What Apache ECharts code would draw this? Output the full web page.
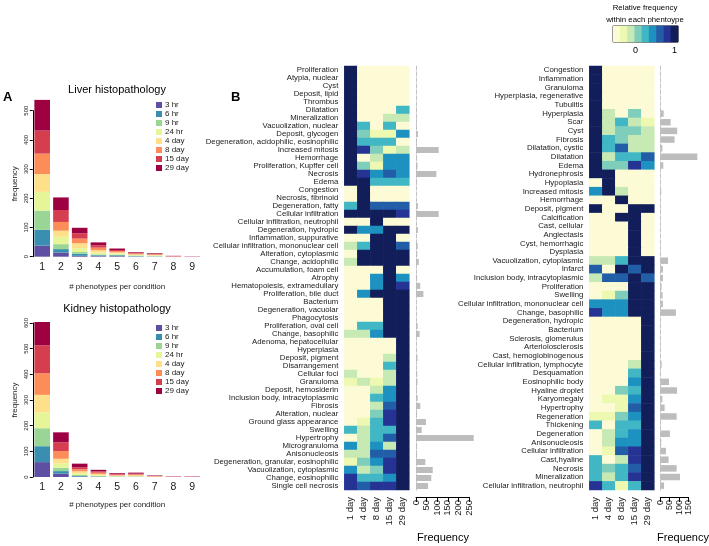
<!DOCTYPE html>
<html><head><meta charset="utf-8">
<script src="https://cdn.jsdelivr.net/npm/echarts@6/dist/echarts.min.js"></script>
<style>html,body{margin:0;padding:0;background:#fff}#c{width:709px;height:546px}</style>
</head><body><div id="c"></div>
<script>
// ---------------- DATA ----------------
const phenotypeCounts = ['1','2','3','4','5','6','7','8','9'];
const timepoints = ['3 hr','6 hr','9 hr','24 hr','4 day','8 day','15 day','29 day'];
const tpColors = ['#5E4FA2','#3A8FB0','#99D594','#E6F598','#FEE08B','#FC8D59','#D53E4F','#9E0142'];

// Panel A: liver, stacked counts per timepoint for 1..9 phenotypes per condition
const liver3hr   = [38,14,3,2,2,1,0,0,0];
const liver6hr   = [54,12,7,3,3,1,1,0,0];
const liver9hr   = [66,17,6,3,2,2,1,0,0];
const liver24hr  = [64,25,13,6,4,2,2,0,0];
const liver4day  = [61,21,17,8,4,2,2,0,0];
const liver8day  = [70,30,16,9,4,3,2,1,0];
const liver15day = [79,41,18,8,4,3,2,1,0];
const liver29day = [105,43,19,10,5,2,2,1,1];
// Panel A: kidney
const kidney3hr   = [58,13,2,1,0,0,0,0,0];
const kidney6hr   = [62,10,2,1,1,1,0,0,0];
const kidney9hr   = [70,13,4,2,1,1,0,0,0];
const kidney24hr  = [62,17,6,3,2,2,1,0,0];
const kidney4day  = [68,18,8,5,2,3,1,0,0];
const kidney8day  = [84,30,8,5,3,3,1,0,0];
const kidney15day = [109,34,8,5,3,3,1,1,1];
const kidney29day = [91,39,14,6,3,4,2,1,1];

// Panel B
const days = ['1 day','4 day','8 day','15 day','29 day'];
const liverPhenotypes = ['Proliferation','Atypia, nuclear','Cyst','Deposit, lipid','Thrombus','Dilatation','Mineralization','Vacuolization, nuclear','Deposit, glycogen','Degeneration, acidophilic, eosinophilic','Increased mitosis','Hemorrhage','Proliferation, Kupffer cell','Necrosis','Edema','Congestion','Necrosis, fibrinoid','Degeneration, fatty','Cellular infiltration','Cellular infiltration, neutrophil','Degeneration, hydropic','Inflammation, suppurative','Cellular infiltration, mononuclear cell','Alteration, cytoplasmic','Change, acidophilic','Accumulation, foam cell','Atrophy','Hematopoiesis, extramedullary','Proliferation, bile duct','Bacterium','Degeneration, vacuolar','Phagocytosis','Proliferation, oval cell','Change, basophilic','Adenoma, hepatocellular','Hyperplasia','Deposit, pigment','Disarrangement','Cellular foci','Granuloma','Deposit, hemosiderin','Inclusion body, intracytoplasmic','Fibrosis','Alteration, nuclear','Ground glass appearance','Swelling','Hypertrophy','Microgranuloma','Anisonucleosis','Degeneration, granular, eosinophilic','Vacuolization, cytoplasmic','Change, eosinophilic','Single cell necrosis'];
const liverRelFreq = [
[1,0,0,0,0],[1,0,0,0,0],[1,0,0,0,0],[1,0,0,0,0],[1,0,0,0,0],
[1,0,0,0,.5],[1,0,0,.25,.25],[1,.5,0,.5,0],[1,.38,.12,.12,.62],[1,.5,.5,.5,0],
[1,.88,.38,.12,.25],[1,0,.25,.62,.62],[1,.38,.12,.62,.62],[1,.88,.62,.75,.62],[1,1,.5,.5,.5],
[0,1,0,0,0],[0,1,0,0,0],[.5,1,.75,.75,.75],[1,1,1,1,.88],[0,0,1,0,0],
[1,.62,.62,1,1],[0,0,1,1,0],[.25,.5,1,1,.75],[0,1,1,1,1],[.25,1,1,1,1],
[0,0,0,1,0],[0,0,.62,1,.62],[0,0,.62,1,.88],[0,.62,1,1,1],[0,0,0,1,1],
[0,0,0,1,1],[0,0,0,1,1],[0,.5,.5,1,1],[.25,.25,.62,1,1],[0,0,0,0,1],
[0,0,0,0,1],[0,0,0,.25,1],[0,0,0,.5,1],[.25,0,0,.25,1],[.12,.25,.12,.25,1],
[0,0,.25,.62,1],[0,0,.5,.62,1],[0,0,.25,.75,1],[0,0,.38,.88,1],[0,.12,.5,.88,1],
[.5,.25,.5,.5,1],[0,.25,.5,.75,1],[.62,.25,.62,.25,1],[.25,.25,.75,.75,1],[.12,.38,.62,.88,1],
[.62,.25,.38,.88,1],[.88,.5,.5,.62,1],[.88,.75,.88,.88,1]];
const liverFrequency = [1,1,1,1,1,3,3,3,9,4,107,4,7,96,4,1,1,9,107,1,9,1,8,6,13,1,5,20,35,1,1,1,8,17,1,1,7,2,6,7,4,8,20,5,47,27,272,5,5,44,79,72,57];

const kidneyPhenotypes = ['Congestion','Inflammation','Granuloma','Hyperplasia, regenerative','Tubulitis','Hyperplasia','Scar','Cyst','Fibrosis','Dilatation, cystic','Dilatation','Edema','Hydronephrosis','Hypoplasia','Increased mitosis','Hemorrhage','Deposit, pigment','Calcification','Cast, cellular','Angiectasis','Cyst, hemorrhagic','Dysplasia','Vacuolization, cytoplasmic','Infarct','Inclusion body, intracytoplasmic','Proliferation','Swelling','Cellular infiltration, mononuclear cell','Change, basophilic','Degeneration, hydropic','Bacterium','Sclerosis, glomerulus','Arteriolosclerosis','Cast, hemoglobinogenous','Cellular infiltration, lymphocyte','Desquamation','Eosinophilic body','Hyaline droplet','Karyomegaly','Hypertrophy','Regeneration','Thickening','Degeneration','Anisonucleosis','Cellular infiltration','Cast,hyaline','Necrosis','Mineralization','Cellular infiltration, neutrophil'];
const kidneyRelFreq = [
[1,0,0,0,0],[1,0,0,0,0],[1,0,0,0,0],[1,0,0,0,0],[1,0,0,0,0],
[1,.25,0,.38,0],[1,.25,.5,.25,.12],[1,.25,.38,.38,.25],[1,.5,.38,.25,.25],[1,.5,.75,.25,.25],
[1,.25,.5,.5,.75],[1,.38,.38,.88,.62],[1,1,0,0,0],[0,1,0,0,0],[.62,1,.25,0,0],
[0,0,1,0,0],[1,0,0,1,1],[0,0,1,1,0],[0,0,0,1,0],[0,0,0,1,0],
[0,0,0,1,0],[0,0,0,1,0],[.25,.25,.5,1,1],[.75,0,1,.75,1],[.25,.75,.75,1,.75],
[0,0,0,1,1],[0,.12,.38,1,1],[.62,.62,.62,1,1],[.88,.62,.62,1,1],[0,0,0,0,1],
[0,0,0,0,1],[0,0,0,0,1],[0,0,0,0,1],[0,0,0,0,1],[0,0,0,.25,1],
[0,0,0,.5,1],[0,0,0,.62,1],[0,0,.38,.5,1],[0,.12,.12,.62,1],[0,0,.12,.75,1],
[.12,.12,.38,.62,1],[.5,0,.5,.5,1],[0,.25,.5,.62,1],[0,.25,.62,.62,1],[0,.12,.75,.88,1],
[.5,0,.25,.88,1],[.5,.38,.5,.75,1],[.5,.25,.5,.88,1],[.88,.5,.12,.5,1]];
const kidneyFrequency = [1,1,1,1,1,18,55,90,76,11,197,16,1,1,5,1,2,1,1,1,1,1,41,14,14,7,12,14,83,1,1,1,1,1,7,2,46,89,11,23,87,2,51,5,30,44,87,105,20];

const colorbarSteps = [0,.12,.25,.38,.5,.62,.75,.88,1];
const ylgnbu = ['#FDFBD5','#EDF8B1','#C7E9B4','#7FCDBB','#41B6C4','#1D91C0','#225EA8','#253494','#121E5A'];

// ---------------- CHART ----------------
const FONT = '"Liberation Sans", Arial, Helvetica, sans-serif';
const TXT = '#1a1a1a';
const chart = echarts.init(document.getElementById('c'));

const liverStacks = [liver3hr,liver6hr,liver9hr,liver24hr,liver4day,liver8day,liver15day,liver29day];
const kidneyStacks = [kidney3hr,kidney6hr,kidney9hr,kidney24hr,kidney4day,kidney8day,kidney15day,kidney29day];

const grids = [
  {left:32.8, top:110.7, width:168.75, height:146},   // liver A
  {left:32.8, top:323, width:168.75, height:154},     // kidney A
  {left:344.3, top:66, width:65, height:424},         // liver heatmap
  {left:416, top:66, width:53, height:424},           // liver freq
  {left:589.3, top:66, width:65, height:424},         // kidney heatmap
  {left:660.3, top:66, width:28.2, height:424},       // kidney freq
  {left:613, top:26, width:65, height:16, show:true, borderColor:'#000', borderWidth:1, backgroundColor:'transparent'} // colorbar
];

function catAxisA(gi, gap){
  return {type:'category', gridIndex:gi, data:phenotypeCounts,
    axisLine:{show:false}, axisTick:{show:false},
    axisLabel:{fontSize:10.5, color:TXT, margin:5, fontFamily:FONT},
    name:'# phenotypes per condition', nameLocation:'middle', nameGap:gap,
    nameTextStyle:{fontSize:8, color:TXT, fontFamily:FONT}};
}
function valAxisA(gi, max){
  return {type:'value', gridIndex:gi, min:0, max:max, interval:100,
    axisLine:{show:true, lineStyle:{color:'#000', width:1}},
    axisTick:{show:true, length:3, lineStyle:{color:'#000'}},
    axisLabel:{rotate:90, fontSize:6, color:TXT, margin:3, fontFamily:FONT},
    splitLine:{show:false},
    name:'frequency', nameLocation:'middle', nameRotate:90, nameGap:14,
    nameTextStyle:{fontSize:8, color:TXT, fontFamily:FONT}};
}
function dayAxis(gi){
  return {type:'category', gridIndex:gi, data:days,
    axisLine:{show:false}, axisTick:{show:false},
    axisLabel:{rotate:90, fontSize:9.5, color:TXT, margin:7, interval:0, fontFamily:FONT}};
}
function rowAxis(gi, names, showLabels){
  return {type:'category', gridIndex:gi, data:names, inverse:true,
    axisLine:{show:!showLabels, lineStyle:{color:'#c4c4c4', type:'dashed', width:1}},
    axisTick:{show:false},
    axisLabel:{show:showLabels, fontSize:7.8, color:TXT, margin:6, interval:0, fontFamily:FONT}};
}
function freqAxis(gi, max, fs){
  return {type:'value', gridIndex:gi, min:0, max:max, interval:50, position:'bottom', offset:7,
    axisLine:{show:true, lineStyle:{color:'#000', width:1}},
    axisTick:{show:true, length:5, lineStyle:{color:'#000'}},
    axisLabel:{rotate:90, fontSize:fs, color:TXT, margin:3, fontFamily:FONT,
      showMinLabel:true, showMaxLabel:true, hideOverlap:false},
    splitLine:{show:false}};
}

const series = [];
liverStacks.forEach((arr,i)=>series.push({type:'bar', name:timepoints[i], stack:'liver', xAxisIndex:0, yAxisIndex:0,
  data:arr, barWidth:15.6, clip:false, itemStyle:{color:tpColors[i]}, emphasis:{disabled:true}}));
kidneyStacks.forEach((arr,i)=>series.push({type:'bar', name:timepoints[i], stack:'kidney', xAxisIndex:1, yAxisIndex:1,
  data:arr, barWidth:15.6, clip:false, itemStyle:{color:tpColors[i]}, emphasis:{disabled:true}}));

function heatData(mat){
  const out=[];
  mat.forEach((row,r)=>row.forEach((v,c)=>out.push([c,r,v])));
  return out;
}
series.push({type:'heatmap', xAxisIndex:2, yAxisIndex:2, data:heatData(liverRelFreq), emphasis:{disabled:true}}); // 16
series.push({type:'bar', xAxisIndex:3, yAxisIndex:3, data:liverFrequency, barCategoryGap:'25%', clip:false,
  itemStyle:{color:'#bdbdbd'}, emphasis:{disabled:true}}); // 17
series.push({type:'heatmap', xAxisIndex:4, yAxisIndex:4, data:heatData(kidneyRelFreq), emphasis:{disabled:true}}); // 18
series.push({type:'bar', xAxisIndex:5, yAxisIndex:5, data:kidneyFrequency, barCategoryGap:'25%', clip:false,
  itemStyle:{color:'#bdbdbd'}, emphasis:{disabled:true}}); // 19
series.push({type:'heatmap', xAxisIndex:6, yAxisIndex:6, data:colorbarSteps.map((v,i)=>[i,0,v]), emphasis:{disabled:true}}); // 20

const pieces = ylgnbu.map((col,i)=>({gte:i/9, lt:(i+1)/9 + (i===8?0.01:0), color:col}));

const legendBase = {orient:'vertical', itemWidth:6, itemHeight:6, itemGap:1, padding:0, icon:'rect',
  selectedMode:false, data:timepoints, textStyle:{fontSize:8, color:TXT, fontFamily:FONT, padding:[0,0,0,-2]}};

const titleStyle = (fs, fw)=>({fontSize:fs, fontWeight:fw||'normal', color:'#000', fontFamily:FONT});

chart.setOption({
  animation:false,
  backgroundColor:'#fff',
  textStyle:{fontFamily:FONT},
  title:[
    {text:'Liver histopathology', left:117, top:84, textAlign:'center', padding:0, textStyle:titleStyle(11)},
    {text:'Kidney histopathology', left:117, top:303, textAlign:'center', padding:0, textStyle:titleStyle(11)},
    {text:'A', left:3, top:91, padding:0, textStyle:titleStyle(13,'bold')},
    {text:'B', left:231, top:91, padding:0, textStyle:titleStyle(13,'bold')},
    {text:'Frequency', left:443, top:532, textAlign:'center', padding:0, textStyle:titleStyle(11)},
    {text:'Frequency', left:683, top:532, textAlign:'center', padding:0, textStyle:titleStyle(11)},
    {text:'Relative frequency\nwithin each phentoype', left:645, top:2, textAlign:'center', padding:0,
      textStyle:{fontSize:7.8, fontWeight:'normal', color:'#000', fontFamily:FONT, lineHeight:12}}
  ],
  legend:[
    Object.assign({left:156, top:101}, legendBase),
    Object.assign({left:156, top:324}, legendBase)
  ],
  grid:grids,
  xAxis:[catAxisA(0,26), catAxisA(1,24), dayAxis(2), freqAxis(3,250,9.5), dayAxis(4), freqAxis(5,150,9),
    {type:'category', gridIndex:6, data:colorbarSteps.map(String), show:false}],
  yAxis:[valAxisA(0,500), valAxisA(1,600), rowAxis(2,liverPhenotypes,true), rowAxis(3,liverPhenotypes,false),
    rowAxis(4,kidneyPhenotypes,true), rowAxis(5,kidneyPhenotypes,false),
    {type:'category', gridIndex:6, data:[''], show:false}],
  visualMap:{type:'piecewise', show:false, seriesIndex:[16,18,20], dimension:2, pieces:pieces},
  graphic:[
    {type:'text', left:633, top:46, style:{text:'0', fill:'#000', font:'9px '+FONT}},
    {type:'text', left:672, top:46, style:{text:'1', fill:'#000', font:'9px '+FONT}}
  ],
  series:series
});
</script></body></html>
